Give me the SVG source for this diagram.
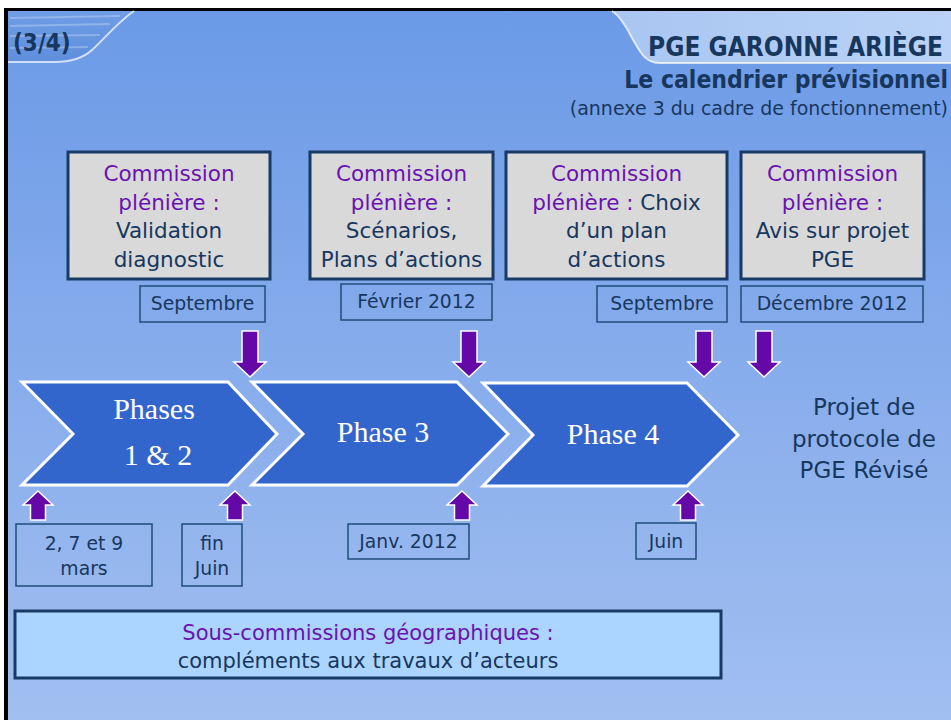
<svg xmlns="http://www.w3.org/2000/svg" width="951" height="720" viewBox="0 0 951 720">
<defs>
  <linearGradient id="bg" x1="0" y1="0" x2="0" y2="1">
    <stop offset="0" stop-color="#6b9ae6"/>
    <stop offset="0.5" stop-color="#88adec"/>
    <stop offset="1" stop-color="#a2bff0"/>
  </linearGradient>
  <linearGradient id="tabR" x1="0" y1="0" x2="1" y2="0">
    <stop offset="0" stop-color="#a9c6f2"/>
    <stop offset="1" stop-color="#b9d2f6"/>
  </linearGradient>
  <linearGradient id="tabL" x1="0" y1="0" x2="0" y2="1">
    <stop offset="0" stop-color="#6f9de6"/>
    <stop offset="1" stop-color="#5f8fdc"/>
  </linearGradient>
  <path id="down" d="M-8,0 H8 V31 H16 L0,46 L-16,31 H-8 Z"/>
  <path id="up" d="M0,0 L15,14 H7.5 V29 H-7.5 V14 H-15 Z"/>
  <style>
    .t{font-family:"DejaVu Sans","Liberation Sans",sans-serif;fill:#17375e}
    .tc{font-family:"DejaVu Sans Condensed","DejaVu Sans","Liberation Sans",sans-serif;font-stretch:condensed;fill:#17375e;font-weight:bold}
    .pur{fill:#6a12b0}
    .cbox{fill:#d9d9d9;stroke:#173a66;stroke-width:3}
    .dbox{fill:none;stroke:#1f4e79;stroke-width:1.5}
    .chev{fill:#3366cc;stroke:#ffffff;stroke-width:3;stroke-linejoin:miter}
    .ph{font-family:"Liberation Serif","Times New Roman",serif;fill:#ffffff;font-size:30px}
    .arr{fill:#6409a8;stroke:#ffffff;stroke-width:1.5}
    .c21{font-size:21.5px}
    .d18{font-size:18.8px}
  </style>
</defs>

<!-- frame and background -->
<rect x="0" y="0" width="951" height="720" fill="#ffffff"/>
<rect x="4" y="8" width="960" height="720" fill="#000000"/>
<rect x="8" y="11" width="950" height="720" fill="url(#bg)"/>

<!-- top-left tab -->
<path d="M8,11 H134 C118,22 105,38 92,50 C82,59 70,62 55,62 H8 Z" fill="url(#tabL)"/>
<g stroke="#ffffff" stroke-opacity="0.25" stroke-width="2">
  <line x1="10" y1="18" x2="120" y2="16"/>
  <line x1="10" y1="26" x2="110" y2="24"/>
  <line x1="10" y1="36" x2="100" y2="35"/>
  <line x1="10" y1="48" x2="88" y2="47"/>
</g>
<path d="M134,11 C118,22 105,38 92,50 C82,59 70,62 55,62 H8" fill="none" stroke="#ffffff" stroke-opacity="0.7" stroke-width="2"/>
<text x="13" y="51" class="tc" font-size="24">(3/4)</text>

<!-- top-right tab -->
<path d="M612,11 H951 V63 H660 C645,63 640,52 632,38 C626,26 620,16 612,11 Z" fill="url(#tabR)"/>
<path d="M612,11 C620,16 626,26 632,38 C640,52 645,63 660,63 H951" fill="none" stroke="#ffffff" stroke-opacity="0.7" stroke-width="2"/>
<text x="943" y="56" class="tc" font-size="26" text-anchor="end">PGE GARONNE ARIÈGE</text>
<text x="948" y="88" class="tc" font-size="24.5" text-anchor="end">Le calendrier prévisionnel</text>
<text x="948" y="115" class="t" font-size="19" text-anchor="end">(annexe 3 du cadre de fonctionnement)</text>

<!-- commission nodes -->
<g id="commission1">
  <rect x="68" y="152" width="202" height="127" class="cbox"/>
  <text class="t c21" text-anchor="middle"><tspan x="169" y="181" class="pur">Commission</tspan><tspan x="169" y="210" class="pur">plénière :</tspan><tspan x="169" y="238">Validation</tspan><tspan x="169" y="267">diagnostic</tspan></text>
</g>
<g id="commission2">
  <rect x="310" y="152" width="183" height="127" class="cbox"/>
  <text class="t c21" text-anchor="middle"><tspan x="401.5" y="181" class="pur">Commission</tspan><tspan x="401.5" y="210" class="pur">plénière :</tspan><tspan x="401.5" y="238">Scénarios,</tspan><tspan x="401.5" y="267">Plans d’actions</tspan></text>
</g>
<g id="commission3">
  <rect x="506" y="152" width="221" height="127" class="cbox"/>
  <text class="t c21" text-anchor="middle"><tspan x="616.5" y="181" class="pur">Commission</tspan><tspan x="616.5" y="210"><tspan class="pur">plénière :</tspan> Choix</tspan><tspan x="616.5" y="238">d’un plan</tspan><tspan x="616.5" y="267">d’actions</tspan></text>
</g>
<g id="commission4">
  <rect x="741" y="152" width="183" height="127" class="cbox"/>
  <text class="t c21" text-anchor="middle"><tspan x="832.5" y="181" class="pur">Commission</tspan><tspan x="832.5" y="210" class="pur">plénière :</tspan><tspan x="832.5" y="238">Avis sur projet</tspan><tspan x="832.5" y="267">PGE</tspan></text>
</g>

<!-- top date labels -->
<g id="date-sept1">
  <rect x="140" y="286" width="125" height="36" class="dbox"/>
  <text x="202.5" y="310" class="t d18" text-anchor="middle">Septembre</text>
</g>
<g id="date-fev2012">
  <rect x="341" y="284" width="151" height="36" class="dbox"/>
  <text x="416.5" y="308" class="t d18" text-anchor="middle">Février 2012</text>
</g>
<g id="date-sept2">
  <rect x="597" y="286" width="130" height="36" class="dbox"/>
  <text x="662" y="310" class="t d18" text-anchor="middle">Septembre</text>
</g>
<g id="date-dec2012">
  <rect x="741" y="286" width="182" height="36" class="dbox"/>
  <text x="832" y="310" class="t d18" text-anchor="middle">Décembre 2012</text>
</g>

<!-- phases -->
<g id="phase12">
  <path d="M22,382 H228 L277,434 L228,485 H22 L73,434 Z" class="chev"/>
  <text class="ph" text-anchor="middle"><tspan x="154" y="419">Phases</tspan><tspan x="158" y="465">1 &amp; 2</tspan></text>
</g>
<g id="phase3">
  <path d="M252,382 H457 L508,434 L457,485 H252 L303,434 Z" class="chev"/>
  <text x="383" y="442" class="ph" text-anchor="middle">Phase 3</text>
</g>
<g id="phase4">
  <path d="M483,383 H687 L738,435 L687,486 H483 L533,435 Z" class="chev"/>
  <text x="613" y="444" class="ph" text-anchor="middle">Phase 4</text>
</g>
<g id="result">
  <text class="t" font-size="23" text-anchor="middle"><tspan x="864" y="415">Projet de</tspan><tspan x="864" y="447">protocole de</tspan><tspan x="864" y="478">PGE Révisé</tspan></text>
</g>

<!-- bottom date labels -->
<g id="date-mars">
  <rect x="16" y="524" width="136" height="62" class="dbox"/>
  <text class="t d18" text-anchor="middle"><tspan x="84" y="550">2, 7 et 9</tspan><tspan x="84" y="575">mars</tspan></text>
</g>
<g id="date-finjuin">
  <rect x="182" y="524" width="60" height="62" class="dbox"/>
  <text class="t d18" text-anchor="middle"><tspan x="212" y="550">fin</tspan><tspan x="212" y="575">Juin</tspan></text>
</g>
<g id="date-janv2012">
  <rect x="348" y="524" width="121" height="35" class="dbox"/>
  <text x="408.5" y="548" class="t d18" text-anchor="middle">Janv. 2012</text>
</g>
<g id="date-juin">
  <rect x="636" y="523" width="60" height="36" class="dbox"/>
  <text x="666" y="548" class="t d18" text-anchor="middle">Juin</text>
</g>

<!-- sub-commissions -->
<g id="souscommissions">
  <rect x="15" y="611" width="706" height="67" fill="#abd5ff" stroke="#173a66" stroke-width="3"/>
  <text class="t" font-size="21" text-anchor="middle"><tspan x="368" y="640" class="pur">Sous-commissions géographiques :</tspan><tspan x="368" y="668">compléments aux travaux d’acteurs</tspan></text>
</g>

<!-- connectors (arrows) -->
<g id="connectors" class="arr">
  <use href="#down" x="250" y="331"/>
  <use href="#down" x="469" y="331"/>
  <use href="#down" x="704" y="331"/>
  <use href="#down" x="764" y="331"/>
  <use href="#up" x="38" y="491"/>
  <use href="#up" x="235" y="491"/>
  <use href="#up" x="462" y="491"/>
  <use href="#up" x="688" y="491"/>
</g>
</svg>
